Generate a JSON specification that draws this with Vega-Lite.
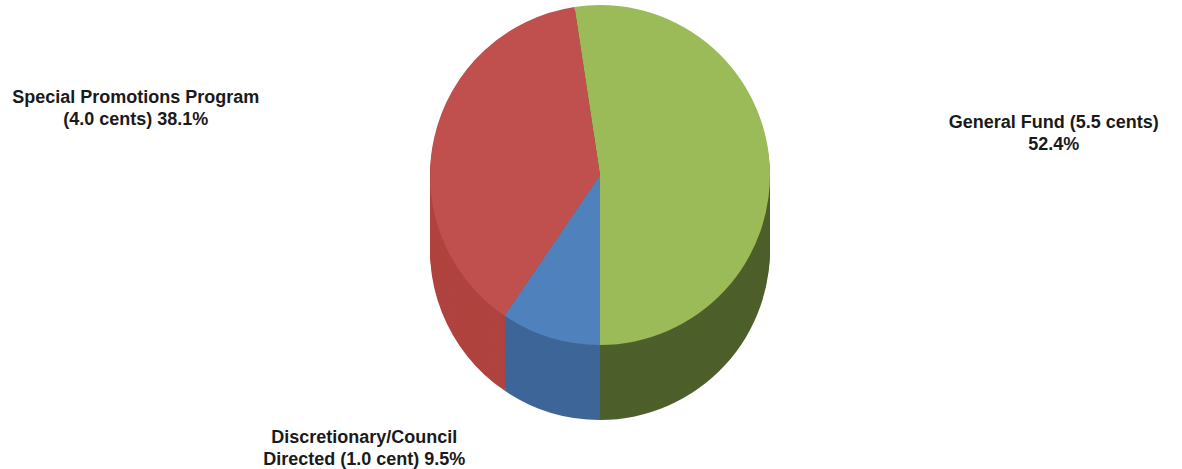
{
  "$schema": "https://vega.github.io/schema/vega-lite/v6.json",
  "width": 1164,
  "height": 350,
  "autosize": {"type": "none"},
  "padding": {"left": 18, "right": 0, "top": 0, "bottom": 119},
  "background": "white",
  "config": {"view": {"stroke": null}},
  "data": {
    "values": [
      {"name": "General Fund", "ord": 1, "share": 52.4, "label": "General Fund (5.5 cents)\n52.4%"},
      {"name": "Discretionary/Council Directed", "ord": 2, "share": 9.5, "label": "Discretionary/Council\nDirected (1.0 cent) 9.5%"},
      {"name": "Special Promotions Program", "ord": 3, "share": 38.1, "label": "Special Promotions Program\n(4.0 cents) 38.1%"}
    ]
  },
  "encoding": {
    "theta": {"field": "share", "type": "quantitative", "stack": true, "scale": {"range": [-0.1508, 6.1324]}},
    "order": {"field": "ord", "type": "quantitative"}
  },
  "layer": [
    {
      "encoding": {
        "color": {"field": "name", "type": "nominal", "legend": null,
          "scale": {"domain": ["General Fund", "Discretionary/Council Directed", "Special Promotions Program"], "range": ["#4D5F2A", "#3D6598", "#B0433F"]}}
      },
      "layer": [
        {"mark": {"type": "arc", "outerRadius": 170, "yOffset": 75}},
        {"mark": {"type": "arc", "outerRadius": 170, "yOffset": 72}},
        {"mark": {"type": "arc", "outerRadius": 170, "yOffset": 69}},
        {"mark": {"type": "arc", "outerRadius": 170, "yOffset": 66}},
        {"mark": {"type": "arc", "outerRadius": 170, "yOffset": 63}},
        {"mark": {"type": "arc", "outerRadius": 170, "yOffset": 60}},
        {"mark": {"type": "arc", "outerRadius": 170, "yOffset": 57}},
        {"mark": {"type": "arc", "outerRadius": 170, "yOffset": 54}},
        {"mark": {"type": "arc", "outerRadius": 170, "yOffset": 51}},
        {"mark": {"type": "arc", "outerRadius": 170, "yOffset": 48}},
        {"mark": {"type": "arc", "outerRadius": 170, "yOffset": 45}},
        {"mark": {"type": "arc", "outerRadius": 170, "yOffset": 42}},
        {"mark": {"type": "arc", "outerRadius": 170, "yOffset": 39}},
        {"mark": {"type": "arc", "outerRadius": 170, "yOffset": 36}},
        {"mark": {"type": "arc", "outerRadius": 170, "yOffset": 33}},
        {"mark": {"type": "arc", "outerRadius": 170, "yOffset": 30}},
        {"mark": {"type": "arc", "outerRadius": 170, "yOffset": 27}},
        {"mark": {"type": "arc", "outerRadius": 170, "yOffset": 24}},
        {"mark": {"type": "arc", "outerRadius": 170, "yOffset": 21}},
        {"mark": {"type": "arc", "outerRadius": 170, "yOffset": 18}},
        {"mark": {"type": "arc", "outerRadius": 170, "yOffset": 15}},
        {"mark": {"type": "arc", "outerRadius": 170, "yOffset": 12}},
        {"mark": {"type": "arc", "outerRadius": 170, "yOffset": 9}},
        {"mark": {"type": "arc", "outerRadius": 170, "yOffset": 6}},
        {"mark": {"type": "arc", "outerRadius": 170, "yOffset": 3}}
      ]
    },
    {
      "mark": {"type": "arc", "outerRadius": 170},
      "encoding": {
        "color": {"field": "name", "type": "nominal", "legend": null,
          "scale": {"domain": ["General Fund", "Discretionary/Council Directed", "Special Promotions Program"], "range": ["#9BBB59", "#4F81BD", "#C0504D"]}}
      }
    },
    {
      "mark": {"type": "text", "radius": 455, "dy": -18, "align": "center", "baseline": "middle", "lineBreak": "\n", "font": "Liberation Sans", "fontWeight": "bold", "fontSize": 18, "lineHeight": 22, "fill": "#1a1a1a"},
      "encoding": {"text": {"condition": {"test": "datum.name === 'General Fund'", "field": "label"}, "value": ""}}
    },
    {
      "mark": {"type": "text", "radius": 476, "dy": 28, "align": "center", "baseline": "middle", "lineBreak": "\n", "font": "Liberation Sans", "fontWeight": "bold", "fontSize": 18, "lineHeight": 22, "fill": "#1a1a1a"},
      "encoding": {"text": {"condition": {"test": "datum.name === 'Special Promotions Program'", "field": "label"}, "value": ""}}
    },
    {
      "mark": {"type": "text", "radius": 285, "dx": -152, "dy": -9, "align": "center", "baseline": "middle", "lineBreak": "\n", "font": "Liberation Sans", "fontWeight": "bold", "fontSize": 18, "lineHeight": 22, "fill": "#1a1a1a"},
      "encoding": {"text": {"condition": {"test": "datum.name === 'Discretionary/Council Directed'", "field": "label"}, "value": ""}}
    }
  ],
  "resolve": {"scale": {"color": "independent"}}
}
